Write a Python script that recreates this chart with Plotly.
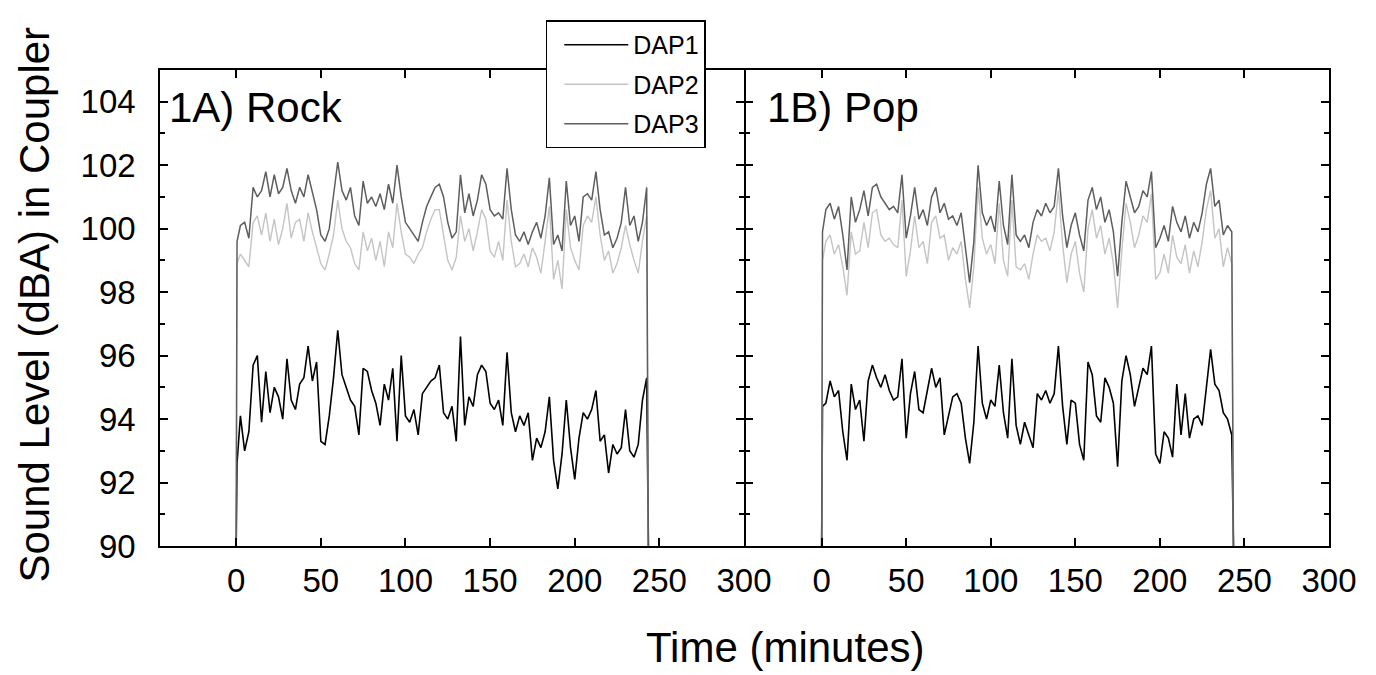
import plotly.graph_objects as go

# time axis shared by both panels (minutes); first/last points are the on/off edges
MINUTES = [0, 0.5, 2.5, 5, 7.5, 10, 12.5, 15, 17.5, 20, 22.5, 25, 27.5, 30, 32.5, 35, 37.5, 40,
           42.5, 45, 47.5, 50, 52.5, 55, 57.5, 60, 62.5, 65, 67.5, 70, 72.5, 75, 77.5, 80, 82.5,
           85, 87.5, 90, 92.5, 95, 97.5, 100, 102.5, 105, 107.5, 110, 112.5, 115, 117.5, 120,
           122.5, 125, 127.5, 130, 132.5, 135, 137.5, 140, 142.5, 145, 147.5, 150, 152.5, 155,
           157.5, 160, 162.5, 165, 167.5, 170, 172.5, 175, 177.5, 180, 182.5, 185, 187.5, 190,
           192.5, 195, 197.5, 200, 202.5, 205, 207.5, 210, 212.5, 215, 217.5, 220, 222.5, 225,
           227.5, 230, 232.5, 235, 237.5, 240, 242.5, 243.5]

# 1A) Rock
ROCK_DAP1 = [90, 92.6, 94.1, 93.0, 93.6, 95.7, 96.0, 93.9, 95.5, 94.2, 95.0, 94.7, 94.0, 95.9,
             94.6, 94.3, 95.1, 95.3, 96.3, 95.2, 95.8, 93.3, 93.2, 94.1, 95.3, 96.8, 95.4, 95.0,
             94.6, 94.4, 93.5, 95.6, 95.5, 94.9, 94.5, 93.8, 95.1, 94.6, 95.6, 93.3, 96.0, 94.1,
             93.9, 94.3, 93.5, 94.8, 95.0, 95.2, 95.3, 95.7, 94.2, 94.0, 94.4, 93.3, 96.6, 93.8,
             94.7, 94.4, 95.4, 95.7, 95.5, 94.5, 94.3, 94.6, 93.8, 96.1, 94.2, 93.6, 94.1, 93.8,
             94.2, 92.7, 93.4, 93.1, 93.6, 94.7, 92.7, 91.8, 92.9, 94.6, 93.1, 92.1, 93.4, 94.2,
             94.0, 94.3, 94.9, 93.3, 93.5, 92.3, 93.2, 92.9, 93.1, 94.3, 93.0, 92.8, 93.2, 94.6,
             95.3, 90]
ROCK_DAP2 = [90, 98.9, 99.2, 99.0, 98.8, 100.2, 100.4, 99.8, 100.5, 99.6, 100.3, 99.5, 100.0,
             100.8, 99.7, 100.2, 100.3, 99.6, 100.5, 99.9, 99.4, 98.9, 98.7, 99.2, 99.8, 100.9,
             100.0, 99.6, 99.4, 98.9, 98.7, 99.9, 99.3, 99.7, 99.0, 99.6, 98.8, 99.9, 99.4, 100.8,
             99.9, 99.2, 99.1, 98.9, 99.2, 99.4, 99.9, 100.3, 100.6, 100.6, 99.8, 99.0, 98.7,
             99.1, 100.4, 99.6, 100.0, 99.3, 99.9, 100.6, 100.3, 99.3, 99.1, 99.6, 99.0, 100.9,
             99.6, 98.8, 98.9, 99.2, 98.8, 99.4, 99.1, 98.6, 99.6, 100.7, 98.4, 99.0, 98.1, 100.6,
             99.4, 99.0, 98.7, 100.1, 100.4, 100.2, 101.0, 99.8, 99.0, 99.3, 98.6, 98.9, 99.4,
             100.1, 99.5, 99.0, 98.6, 99.6, 100.4, 90]
ROCK_DAP3 = [90, 99.6, 100.1, 100.2, 99.7, 101.3, 101.0, 101.2, 101.8, 101.0, 101.7, 101.1, 101.3,
             101.9, 101.2, 100.8, 101.3, 101.0, 101.7, 101.1, 100.6, 99.8, 99.6, 100.0, 101.0,
             102.1, 101.2, 100.9, 101.3, 100.4, 100.1, 101.5, 100.8, 101.0, 100.7, 101.1, 100.6,
             101.4, 100.8, 102.0, 101.0, 100.2, 100.0, 99.8, 99.6, 100.2, 100.7, 101.0, 101.3,
             101.4, 101.0, 100.2, 99.7, 99.9, 101.7, 100.5, 101.1, 100.4, 100.9, 101.7, 101.4,
             100.6, 100.4, 100.5, 100.3, 101.9, 100.6, 99.8, 99.6, 99.9, 99.5, 99.9, 100.2, 99.7,
             100.4, 101.6, 99.5, 99.8, 99.3, 101.5, 100.1, 100.4, 99.6, 101.0, 101.1, 100.9, 101.8,
             100.6, 99.8, 99.9, 99.4, 99.7, 100.2, 101.3, 100.1, 100.4, 99.6, 100.2, 101.3, 90]

# 1B) Pop
POP_DAP1 = [90, 94.4, 94.5, 95.2, 94.7, 94.9, 93.6, 92.7, 95.1, 94.3, 94.6, 93.3, 95.2, 95.7,
            95.3, 95.0, 95.4, 94.9, 94.6, 94.7, 95.9, 93.4, 94.8, 95.5, 94.3, 94.2, 94.9, 95.6,
            95.0, 95.3, 93.5, 94.1, 94.7, 94.8, 94.5, 93.4, 92.6, 93.9, 96.3, 94.5, 94.0, 94.6,
            94.4, 95.7, 94.2, 93.4, 95.9, 93.8, 93.2, 93.9, 93.5, 93.1, 94.8, 94.6, 94.9, 94.5,
            94.8, 96.3, 94.4, 93.2, 94.6, 94.5, 93.2, 92.7, 95.8, 95.4, 94.1, 93.9, 95.3, 95.0,
            94.5, 92.5, 95.2, 96.0, 95.4, 94.4, 95.0, 95.6, 95.4, 96.3, 92.9, 92.6, 93.6, 93.4,
            92.8, 95.1, 93.5, 94.8, 93.4, 94.0, 94.1, 93.8, 95.0, 96.2, 95.1, 94.9, 94.2, 94.0,
            93.5, 90]
POP_DAP2 = [90, 99.0, 99.6, 99.8, 99.2, 99.5, 98.8, 97.9, 99.9, 99.2, 99.3, 100.2, 99.4, 100.5,
            100.6, 99.8, 99.6, 99.7, 99.5, 99.4, 100.9, 98.5, 99.3, 100.4, 99.4, 99.6, 98.9,
            100.2, 100.4, 99.7, 99.8, 99.0, 99.4, 99.2, 99.6, 98.4, 97.5, 98.8, 101.3, 99.7,
            99.2, 99.5, 98.9, 100.8, 99.0, 98.5, 100.9, 98.8, 98.7, 98.9, 98.4, 99.2, 99.8, 99.6,
            99.7, 99.3, 99.9, 101.2, 99.5, 98.3, 99.2, 99.6, 98.6, 98.0, 100.0, 100.6, 99.7,
            100.1, 99.2, 99.7, 98.9, 97.5, 99.3, 100.8, 100.2, 99.4, 99.8, 100.4, 100.2, 101.1,
            98.4, 98.6, 99.2, 98.6, 99.8, 99.1, 98.9, 99.5, 98.6, 99.3, 98.8, 99.6, 100.6, 101.2,
            99.7, 100.0, 98.8, 99.4, 98.9, 90]
POP_DAP3 = [90, 99.9, 100.6, 100.8, 100.3, 100.7, 99.8, 98.7, 101.0, 100.2, 100.6, 101.2, 100.4,
            101.3, 101.4, 101.0, 100.8, 100.6, 100.7, 100.5, 101.7, 99.7, 100.4, 101.3, 100.3,
            100.6, 100.1, 101.0, 101.3, 100.5, 100.8, 100.3, 100.4, 100.1, 100.5, 99.3, 98.3,
            99.6, 102.0, 100.5, 100.1, 100.4, 99.9, 101.5, 100.1, 99.5, 101.7, 99.8, 99.6, 99.8,
            99.4, 100.2, 100.6, 100.4, 100.8, 100.5, 100.7, 101.9, 100.4, 99.4, 100.1, 100.5,
            99.8, 99.3, 100.9, 101.3, 100.6, 101.0, 100.2, 100.6, 99.9, 98.5, 100.2, 101.5, 101.0,
            100.5, 100.7, 101.2, 101.0, 101.8, 99.4, 99.7, 100.1, 99.6, 100.7, 100.2, 99.9, 100.4,
            99.7, 100.2, 99.9, 100.5, 101.4, 101.9, 100.7, 100.9, 99.8, 100.1, 99.9, 90]

SERIES_NAMES = ['DAP1', 'DAP2', 'DAP3']
SERIES_COLORS = {'DAP1': '#000000', 'DAP2': '#c4c4c4', 'DAP3': '#5e5e5e'}
SERIES_WIDTHS = {'DAP1': 1.6, 'DAP2': 1.4, 'DAP3': 1.5}
X_TICKS = [0, 50, 100, 150, 200, 250, 300]
Y_TICKS = [90, 92, 94, 96, 98, 100, 102, 104]

panels = [
    ('x', 'y', {'DAP1': ROCK_DAP1, 'DAP2': ROCK_DAP2, 'DAP3': ROCK_DAP3}, True),
    ('x2', 'y2', {'DAP1': POP_DAP1, 'DAP2': POP_DAP2, 'DAP3': POP_DAP3}, False),
]

FONT = 'Liberation Sans, Arial, sans-serif'

fig = go.Figure()
for xa, ya, data, show in panels:
    for name in SERIES_NAMES:
        assert len(data[name]) == len(MINUTES), (name, len(data[name]))
        fig.add_trace(go.Scatter(
            x=MINUTES, y=data[name], name=name, mode='lines',
            line=dict(color=SERIES_COLORS[name], width=SERIES_WIDTHS[name]),
            xaxis=xa, yaxis=ya, showlegend=show, legendgroup=name,
        ))

axis_common = dict(
    showline=True, linecolor='black', linewidth=1.5, mirror='ticks',
    ticks='inside', ticklen=8, tickwidth=1.5, tickcolor='black',
    showgrid=False, zeroline=False,
    tickfont=dict(family=FONT, size=33, color='black'),
)
minor_y = dict(dtick=1, tick0=90, ticks='inside', ticklen=5, tickwidth=1.5, tickcolor='black')

fig.update_layout(
    width=1376, height=675,
    paper_bgcolor='white', plot_bgcolor='white',
    # page body adds an 8px offset, so margins are shifted to compensate
    margin=dict(l=152, r=55, t=49, b=137),
    font=dict(family=FONT, color='black'),
    xaxis=dict(domain=[0, 0.4996], range=[-45, 300], tickvals=X_TICKS,
               ticklabelstandoff=5, **axis_common),
    # start nudged so the shared border lines of the two panels overlap
    xaxis2=dict(domain=[0.5009, 1], range=[-45, 300], tickvals=X_TICKS,
                ticklabelstandoff=5, **axis_common),
    yaxis=dict(range=[90, 105], tickvals=Y_TICKS, anchor='x', ticklabelstandoff=16,
               minor=minor_y, **axis_common),
    yaxis2=dict(range=[90, 105], tickvals=Y_TICKS, anchor='x2', showticklabels=False,
                minor=minor_y, **axis_common),
    legend=dict(x=0.330, y=1.104, xanchor='left', yanchor='top',
                bgcolor='white', bordercolor='black', borderwidth=1.5,
                font=dict(family=FONT, size=25, color='black'),
                itemwidth=64, tracegroupgap=4, indentation=12),
)

# panel labels and axis titles
fig.add_annotation(text='1A) Rock', xref='x domain', yref='y domain', x=0.012, y=0.922,
                   xanchor='left', yanchor='middle', showarrow=False,
                   font=dict(family=FONT, size=42, color='black'))
fig.add_annotation(text='1B) Pop', xref='x2 domain', yref='y2 domain', x=0.034, y=0.922,
                   xanchor='left', yanchor='middle', showarrow=False,
                   font=dict(family=FONT, size=42, color='black'))
fig.add_annotation(text='Time (minutes)', xref='paper', yref='paper', x=0.5346, y=-0.2127,
                   xanchor='center', yanchor='middle', showarrow=False,
                   font=dict(family=FONT, size=42, color='black'))
fig.add_annotation(text='Sound Level (dBA) in Coupler', xref='paper', yref='paper',
                   x=-0.107, y=0.507, xanchor='center', yanchor='middle', textangle=-90,
                   showarrow=False, font=dict(family=FONT, size=42, color='black'))

fig.write_html('out.html')
